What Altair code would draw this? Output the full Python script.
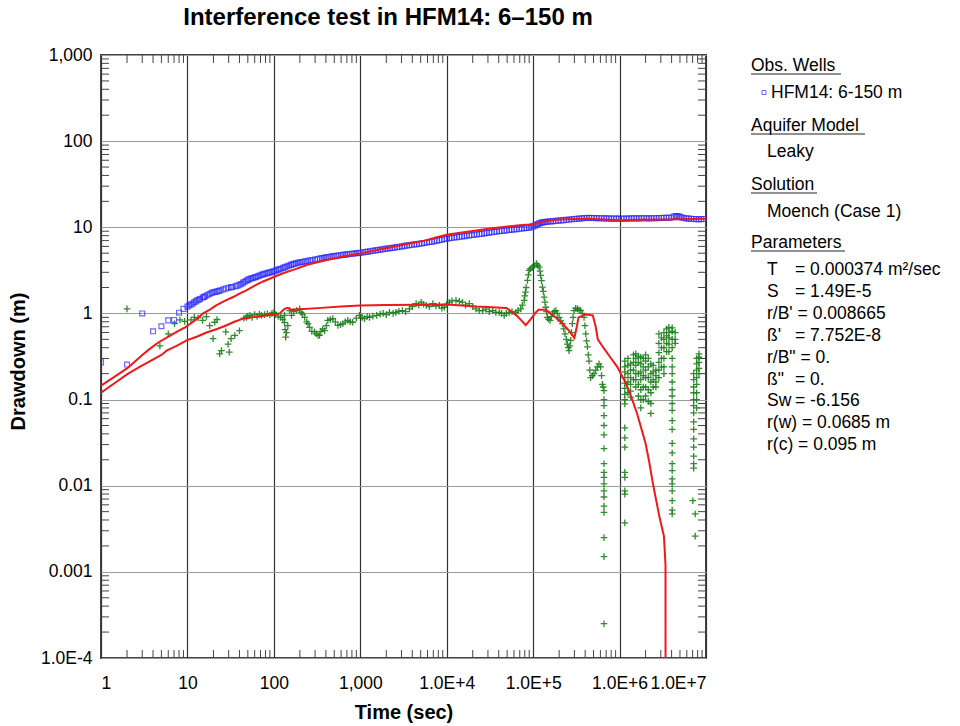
import altair as alt
import pandas as pd

# ---------------- text ----------------
title_text = "Interference test in HFM14: 6–150 m"
x_title = "Time (sec)"
y_title = "Drawdown (m)"
x_ticks = [1, 10, 100, 1000, 1e4, 1e5, 1e6, 1e7]
x_tick_labels = ["1", "10", "100", "1,000", "1.0E+4", "1.0E+5", "1.0E+6", "1.0E+7"]
y_ticks = [1e-4, 1e-3, 1e-2, 0.1, 1, 10, 100, 1000]
y_tick_labels = ["1.0E-4", "0.001", "0.01", "0.1", "1", "10", "100", "1,000"]

legend_heads = ["Obs. Wells", "Aquifer Model", "Solution", "Parameters"]
well_name = "HFM14: 6-150 m"
aquifer_model = "Leaky"
solution_name = "Moench (Case 1)"
param_names = ["T", "S", "r/B'", "ß'", 'r/B"', 'ß"', "Sw", "r(w)", "r(c)"]
param_values = ["0.000374 m²/sec", "1.49E-5", "0.008665", "7.752E-8", "0.", "0.",
                "-6.156", "0.0685 m", "0.095 m"]

# ---------------- observed drawdown (blue squares) ----------------
obs_time = [1, 2, 3, 4, 5, 6, 7, 8, 9, 10, 10.5, 11, 11.5, 12, 12.5, 13, 13.5, 14, 15,
            15.5, 16, 17, 18, 19, 20, 21, 22, 23, 24, 26, 28, 30, 32, 33, 36, 38, 40,
            42, 44, 46, 48, 50, 52, 55, 57, 60, 62, 65, 68, 72, 75, 78, 82, 86, 90, 95,
            100, 105, 110, 115, 120, 128, 135, 142, 150, 158, 165, 172, 180, 190, 200,
            212, 225, 237, 250, 265, 280, 300, 320, 340, 360, 380, 400, 425, 450, 475,
            500, 530, 560, 600, 630, 670, 710, 750, 800, 850, 900, 950, 1000, 1080,
            1150, 1220, 1300, 1400, 1500, 1600, 1700, 1820, 1950, 2070, 2200, 2350,
            2500, 2670, 2850, 3050, 3250, 3470, 3700, 3950, 4200, 4500, 4800, 5150,
            5500, 5900, 6300, 6750, 7200, 7700, 8200, 8800, 9400, 10000, 10700, 11400,
            12200, 13100, 14000, 15000, 16000, 17100, 18200, 19500, 20800, 22300, 23800,
            25500, 27200, 29000, 31000, 33200, 35500, 38000, 40500, 43300, 46300, 49400,
            52800, 56400, 60300, 64500, 69000, 73700, 78700, 84000, 90000, 95000, 100000,
            105000, 110000, 114000, 118000, 122000, 127000, 132000, 137000, 143000,
            150000, 160000, 170000, 182000, 195000, 210000, 225000, 242000, 260000,
            280000, 300000, 320000, 340000, 365000, 390000, 417000, 445000, 475000,
            505000, 540000, 580000, 620000, 660000, 705000, 755000, 805000, 860000,
            920000, 985000, 1050000, 1120000, 1200000, 1280000, 1370000, 1470000,
            1570000, 1680000, 1790000, 1910000, 2050000, 2190000, 2340000, 2500000,
            2670000, 2850000, 3050000, 3260000, 3480000, 3720000, 3980000, 4250000,
            4450000, 4600000, 4800000, 5000000, 5250000, 5540000, 5900000, 6330000,
            6750000, 7230000, 7700000, 8260000, 8800000, 9430000]
obs_drawdown = [0.27, 0.255, 1.0, 0.62, 0.71, 0.83, 0.84, 1.02, 1.13, 1.2, 1.24, 1.27,
                1.3, 1.35, 1.38, 1.42, 1.44, 1.47, 1.53, 1.55, 1.58, 1.63, 1.68, 1.73,
                1.76, 1.78, 1.8, 1.82, 1.85, 1.9, 1.95, 1.99, 2.01, 2.03, 2.07, 2.1,
                2.15, 2.2, 2.28, 2.33, 2.4, 2.45, 2.5, 2.55, 2.58, 2.62, 2.65, 2.7, 2.75,
                2.8, 2.85, 2.88, 2.92, 2.96, 3.0, 3.04, 3.08, 3.14, 3.2, 3.25, 3.3, 3.38,
                3.45, 3.52, 3.6, 3.66, 3.72, 3.77, 3.82, 3.87, 3.92, 3.96, 4.0, 4.04,
                4.08, 4.12, 4.17, 4.22, 4.28, 4.33, 4.38, 4.42, 4.47, 4.51, 4.55, 4.59,
                4.63, 4.66, 4.7, 4.74, 4.78, 4.81, 4.85, 4.89, 4.93, 4.96, 5.0, 5.03,
                5.07, 5.12, 5.17, 5.22, 5.28, 5.34, 5.4, 5.45, 5.5, 5.56, 5.62, 5.67,
                5.72, 5.77, 5.82, 5.88, 5.95, 6.01, 6.08, 6.14, 6.2, 6.26, 6.32, 6.38,
                6.45, 6.51, 6.58, 6.66, 6.75, 6.82, 6.9, 7.0, 7.1, 7.2, 7.3, 7.38, 7.45,
                7.52, 7.6, 7.68, 7.75, 7.83, 7.9, 7.98, 8.05, 8.13, 8.2, 8.28, 8.35,
                8.42, 8.5, 8.59, 8.68, 8.76, 8.85, 8.92, 9.0, 9.07, 9.15, 9.22, 9.3,
                9.38, 9.45, 9.52, 9.6, 9.68, 9.75, 9.82, 9.9, 10.0, 10.2, 10.45, 10.7,
                10.9, 11.1, 11.25, 11.35, 11.42, 11.5, 11.58, 11.65, 11.72, 11.8, 11.88,
                11.95, 12.02, 12.1, 12.2, 12.3, 12.4, 12.5, 12.55, 12.6, 12.7, 12.8,
                12.82, 12.85, 12.83, 12.8, 12.78, 12.75, 12.72, 12.7, 12.68, 12.65, 12.62,
                12.6, 12.6, 12.6, 12.58, 12.6, 12.62, 12.65, 12.68, 12.7, 12.7, 12.7,
                12.72, 12.75, 12.72, 12.7, 12.72, 12.75, 12.78, 12.8, 12.83, 12.85, 12.88,
                12.9, 13.0, 13.3, 13.4, 13.5, 13.4, 13.2, 13.0, 12.8, 12.7, 12.6, 12.55,
                12.5, 12.45, 12.4, 12.45, 12.5]

# ---------------- derivative data (green crosses) ----------------
deriv_early = [(2, 1.13), (4.8, 0.42), (6, 0.58), (7.1, 0.76), (8.2, 0.84), (9.3, 0.81),
               (11, 0.84), (12, 0.9), (13.3, 0.89), (15, 0.83), (16.6, 0.92), (18.1, 0.72),
               (20.7, 0.79), (19.8, 0.51), (22, 0.85), (24.8, 0.37), (23.6, 0.34),
               (27.8, 0.61), (29.5, 0.44), (32, 0.51), (30.5, 0.355), (35.3, 0.555),
               (40, 0.63), (45, 0.88), (48, 0.9)]
deriv_mid = [(50, 0.93), (53, 0.95), (56, 0.9), (60, 0.97), (64, 0.92), (68, 0.98),
             (72, 0.95), (78, 0.97), (84, 0.99), (90, 0.96), (95, 1.0), (100, 1.02),
             (105, 0.97), (112, 0.93), (120, 0.9), (127, 0.85), (133, 0.95), (133, 0.78),
             (135, 0.65), (137, 0.53), (140, 0.6), (145, 0.72), (152, 1.08), (160, 0.95),
             (170, 1.05), (183, 1.08), (199, 1.13), (207, 1.03), (215, 0.98), (227, 0.9),
             (240, 0.8), (248, 0.76), (259, 0.69), (275, 0.62), (296, 0.61), (310, 0.58),
             (324, 0.555), (338, 0.555), (350, 0.62), (368, 0.66), (386, 0.63),
             (405, 0.72), (421, 0.83), (450, 0.85), (481, 0.87), (515, 0.8), (550, 0.725),
             (590, 0.74), (627, 0.76), (670, 0.8), (716, 0.83), (765, 0.8), (817, 0.79),
             (900, 0.88), (979, 0.95), (1050, 0.9), (1118, 0.87), (1200, 0.92),
             (1277, 0.9), (1400, 0.93), (1550, 0.95), (1700, 0.98), (1840, 1.0),
             (2000, 0.97), (2174, 1.03), (2400, 1.0), (2580, 1.03), (2800, 1.06),
             (3070, 1.08), (3350, 1.05), (3700, 1.13), (4000, 1.2), (4430, 1.3),
             (4750, 1.25), (5060, 1.35), (5400, 1.28), (5800, 1.24), (6300, 1.2),
             (6920, 1.3), (7500, 1.22), (8216, 1.24), (8800, 1.15), (9384, 1.18),
             (10000, 1.28), (10720, 1.35), (11500, 1.4), (12800, 1.42), (14000, 1.38),
             (15200, 1.35), (16500, 1.25), (18240, 1.3), (20000, 1.2), (21800, 1.13),
             (23800, 1.08), (26000, 1.08), (28500, 1.12), (31050, 1.05), (34000, 1.08),
             (37000, 1.03), (40500, 1.03), (43000, 1.0), (46260, 0.95), (49000, 1.0),
             (52840, 1.03), (57000, 1.05), (63000, 1.03), (67000, 1.08), (71800, 1.13),
             (75000, 1.25)]
deriv_peak = [(78730, 1.42), (80000, 1.6), (81500, 1.77), (83000, 2.0), (86000, 2.42),
              (88000, 2.8), (89920, 3.16), (93000, 3.3), (98000, 3.45), (103000, 3.6),
              (109000, 3.78), (113000, 3.6), (117300, 3.45), (120000, 3.1), (122000, 2.77),
              (125000, 2.4), (128000, 2.02), (131000, 1.8), (134000, 1.55), (137000, 1.35),
              (140000, 1.18), (143000, 1.05), (146000, 0.9), (150000, 0.86), (157000, 0.83),
              (162000, 0.92), (168000, 1.0), (175000, 1.05), (183000, 1.08), (190000, 1.0),
              (199700, 0.9), (208000, 0.82), (218000, 0.76), (226000, 0.66), (234000, 0.58),
              (242000, 0.5), (249000, 0.44), (255000, 0.4), (260500, 0.37), (266000, 0.42),
              (272000, 0.486), (278000, 0.6), (284000, 0.76), (290000, 0.9),
              (297500, 1.08), (310000, 1.15), (325000, 1.13), (340000, 1.1), (355000, 1.08),
              (370000, 1.0), (388100, 0.9), (397000, 0.72), (406000, 0.58), (415000, 0.48),
              (425000, 0.41), (434000, 0.33), (443300, 0.28), (452000, 0.22), (463000, 0.18),
              (485000, 0.19), (506300, 0.2), (530000, 0.22), (553000, 0.24), (578000, 0.26),
              (604000, 0.24), (618000, 0.19), (632000, 0.15), (646000, 0.14),
              (660500, 0.127)]
# late-time columns: (time, [derivative values read down the column])
deriv_columns = [
    (660000, [0.1, 0.085, 0.065, 0.05, 0.039, 0.027, 0.018, 0.0143, 0.0125, 0.0105,
              0.0087, 0.0074, 0.0058, 0.0049, 0.0025, 0.0015, 0.00025]),
    (1150000, [0.28, 0.24, 0.21, 0.18, 0.155, 0.135, 0.115, 0.1, 0.089, 0.047, 0.036,
               0.028, 0.0143, 0.0125, 0.0087, 0.008, 0.0037]),
    (1250000, [0.3, 0.25, 0.2, 0.16, 0.12]),
    (1340000, [0.26, 0.22, 0.18, 0.15, 0.125, 0.107]),
    (1450000, [0.33, 0.27, 0.22, 0.17]),
    (1540000, [0.34, 0.3, 0.25, 0.2, 0.17, 0.14]),
    (1650000, [0.32, 0.27, 0.2, 0.15, 0.11]),
    (1760000, [0.31, 0.26, 0.21, 0.17, 0.13, 0.1, 0.08]),
    (1880000, [0.3, 0.24, 0.19, 0.14, 0.1]),
    (2000000, [0.33, 0.28, 0.22, 0.18, 0.14, 0.11]),
    (2150000, [0.3, 0.24, 0.18, 0.13, 0.095]),
    (2300000, [0.26, 0.2, 0.16, 0.12, 0.09, 0.069]),
    (2450000, [0.25, 0.21, 0.17, 0.14]),
    (2630000, [0.22, 0.19, 0.16, 0.14]),
    (2850000, [0.58, 0.45, 0.35, 0.27, 0.22, 0.18]),
    (3050000, [0.52, 0.4, 0.3, 0.24]),
    (3260000, [0.6, 0.5, 0.4, 0.3, 0.24, 0.2]),
    (3500000, [0.66, 0.55, 0.45, 0.36]),
    (3720000, [0.69, 0.6, 0.52, 0.44, 0.36]),
    (4060000, [0.68, 0.62, 0.5, 0.4, 0.3, 0.24, 0.2, 0.16, 0.13, 0.11, 0.09, 0.075,
               0.057, 0.045, 0.031, 0.024, 0.018, 0.015, 0.012, 0.0105, 0.0087, 0.0067,
               0.0052, 0.0047]),
    (4400000, [0.6, 0.5, 0.45]),
    (7040000, [0.0067]),
    (7500000, [0.0047, 0.0026]),
    (7200000, [0.2, 0.17, 0.14, 0.12, 0.1, 0.085, 0.07, 0.055, 0.045, 0.035, 0.028,
               0.022, 0.018, 0.016]),
    (7800000, [0.3, 0.26, 0.22, 0.18, 0.15, 0.12, 0.1, 0.08]),
    (8300000, [0.34, 0.31, 0.27, 0.23, 0.2]),
]

# ---------------- model curves (red) ----------------
model_time = [1, 1.5, 2, 2.4, 3, 3.7, 4.6, 5.9, 7.5, 9.4, 11, 13, 15.2, 18, 21.5, 27,
              33.8, 40, 48, 60, 75, 100, 130, 174, 250, 420, 650, 1000, 1600, 2500,
              3700, 5600, 7500, 10000, 15000, 22000, 32000, 45000, 65000, 90000, 105000,
              120000, 150000, 200000, 280000, 400000, 600000, 1000000, 1500000, 2200000,
              3000000, 5000000, 7000000, 10000000]
model_drawdown = [0.145, 0.19, 0.23, 0.27, 0.33, 0.39, 0.46, 0.53, 0.61, 0.69, 0.77,
                  0.87, 1.0, 1.1, 1.24, 1.4, 1.55, 1.7, 1.85, 2.1, 2.35, 2.65, 2.95,
                  3.25, 3.7, 4.2, 4.6, 4.95, 5.5, 6.0, 6.5, 7.0, 7.6, 8.2, 8.7, 9.2, 9.7,
                  10.1, 10.5, 10.8, 11.0, 11.4, 11.9, 12.3, 12.5, 12.6, 12.4, 12.1, 12.2,
                  12.3, 12.3, 12.4, 12.5, 12.6]
model_deriv_time = [1, 1.5, 2, 2.8, 3.7, 5, 5.75, 7.5, 9.8, 13, 16.6, 22, 28, 35, 44,
                    55, 68, 85, 100, 117, 133, 145, 160, 200, 355, 600, 990, 2000, 5600,
                    10000, 22000, 49000, 56000, 64000, 73000, 82000, 95000, 105000,
                    115000, 140000, 170000, 220000, 260000, 300000, 320000, 335000,
                    400000, 490000, 530000, 560000, 650000, 800000, 940000, 1200000,
                    1400000, 1600000, 1800000, 2000000, 2200000, 2400000, 2650000,
                    2900000, 3260000, 3400000, 3410000]
model_deriv = [0.12, 0.16, 0.196, 0.24, 0.28, 0.33, 0.37, 0.42, 0.486, 0.54, 0.6, 0.66,
               0.725, 0.8, 0.87, 0.9, 0.92, 0.95, 0.97, 1.0, 1.13, 1.16, 1.1, 1.12, 1.16,
               1.2, 1.24, 1.25, 1.26, 1.27, 1.2, 1.16, 1.05, 0.95, 0.83, 0.73, 0.87, 1.0,
               1.1, 1.1, 0.95, 0.76, 0.63, 0.52, 0.7, 0.9, 0.97, 0.95, 0.7, 0.5, 0.4, 0.3,
               0.24, 0.15, 0.1, 0.068, 0.045, 0.031, 0.019, 0.0114, 0.0068, 0.0043,
               0.0026, 0.0012, 1e-6]

# ---------------- build tables ----------------
W, H = 605, 603
FONT = "Liberation Sans"

obs_df = pd.DataFrame({"t": obs_time, "s": obs_drawdown})
g_pts = deriv_early + deriv_mid + deriv_peak
for tc, vals in deriv_columns:
    g_pts += [(tc, v) for v in vals]
deriv_df = pd.DataFrame({"t": [p[0] for p in g_pts], "s": [p[1] for p in g_pts]})
model_df = pd.DataFrame({"t": model_time, "s": model_drawdown})
mderiv_df = pd.DataFrame({"t": model_deriv_time, "s": model_deriv})

x_minor = [m * 10 ** k for k in range(0, 7) for m in range(2, 10)]
y_minor = [m * 10.0 ** k for k in range(-4, 3) for m in range(2, 10)]


def label_expr(vals, labels):
    expr = "'" + labels[-1] + "'"
    for v, lab in reversed(list(zip(vals[:-1], labels[:-1]))):
        expr = "datum.value < " + repr(v * 3.1623) + " ? '" + lab + "' : " + expr
    return expr


xscale = alt.Scale(type="log", domain=[1, 1e7], nice=False)
yscale = alt.Scale(type="log", domain=[1e-4, 1000], nice=False)
x_enc = alt.X("t:Q", scale=xscale,
              axis=alt.Axis(values=x_ticks, labelExpr=label_expr(x_ticks, x_tick_labels),
                            title=x_title, grid=True, gridColor="#333333", gridWidth=1.2,
                            labelPadding=16, titleY=54, titleBaseline="middle"))
y_enc = alt.Y("s:Q", scale=yscale,
              axis=alt.Axis(values=y_ticks, labelExpr=label_expr(y_ticks, y_tick_labels),
                            title=y_title, grid=True, gridColor="#9a9a9a", gridWidth=1.2,
                            labelPadding=9, titleX=-83, titleY=306,
                            titleBaseline="middle"))

layers = []
tick_col = "#444444"
layers.append(alt.Chart(pd.DataFrame({"t": x_minor})).mark_rule(color=tick_col, strokeWidth=1)
              .encode(x=x_enc, y=alt.value(H), y2=alt.value(H - 8)))
layers.append(alt.Chart(pd.DataFrame({"t": x_minor})).mark_rule(color=tick_col, strokeWidth=1)
              .encode(x=x_enc, y=alt.value(0), y2=alt.value(8)))
layers.append(alt.Chart(pd.DataFrame({"s": y_minor})).mark_rule(color=tick_col, strokeWidth=1)
              .encode(y=y_enc, x=alt.value(0), x2=alt.value(8)))
layers.append(alt.Chart(pd.DataFrame({"s": y_minor})).mark_rule(color=tick_col, strokeWidth=1)
              .encode(y=y_enc, x=alt.value(W), x2=alt.value(W - 8)))

cross = "M-1,0L1,0M0,-1L0,1"
layers.append(alt.Chart(deriv_df).mark_point(shape=cross, filled=False, color="#1a7f1a",
                                             strokeWidth=1.3, size=44, opacity=0.9,
                                             clip=True)
              .encode(x=x_enc, y=y_enc))
layers.append(alt.Chart(obs_df).mark_point(shape="square", filled=False, color="#2a2aff",
                                           strokeWidth=1.2, size=24, clip=True)
              .encode(x=x_enc, y=y_enc))
layers.append(alt.Chart(model_df).mark_line(color="#f01818", strokeWidth=2, clip=True)
              .encode(x=x_enc, y=y_enc))
layers.append(alt.Chart(mderiv_df).mark_line(color="#f01818", strokeWidth=2, clip=True)
              .encode(x=x_enc, y=y_enc))


def text_layer(txt, px, py, size=17.5, weight="normal", align="left"):
    return (alt.Chart(pd.DataFrame({"label": [txt]}))
            .mark_text(font=FONT, fontSize=size, fontWeight=weight, align=align,
                       baseline="middle", color="black")
            .encode(x=alt.value(px), y=alt.value(py), text="label:N"))


def underline(px, py, w):
    return (alt.Chart(pd.DataFrame({"k": [0]})).mark_rule(color="#222222", strokeWidth=1)
            .encode(x=alt.value(px), x2=alt.value(px + w), y=alt.value(py)))


# chart title
layers.append(text_layer(title_text, 287, -37, size=24, weight="bold", align="center"))

# side panel
LX = 650
head_y = [11, 71, 130, 188]
head_w = [90, 114, 66, 94]
for txt, hy, hw in zip(legend_heads, head_y, head_w):
    layers.append(text_layer(txt, LX, hy))
    layers.append(underline(LX, hy + 8, hw))
layers.append(alt.Chart(pd.DataFrame({"k": [0]}))
              .mark_point(shape="square", filled=False, color="#2a2aff", size=16,
                          strokeWidth=1)
              .encode(x=alt.value(663), y=alt.value(37.5)))
layers.append(text_layer(well_name, 670, 37.5))
layers.append(text_layer(aquifer_model, 666, 97))
layers.append(text_layer(solution_name, 666, 156.5))
for i, (nm, val) in enumerate(zip(param_names, param_values)):
    py = 215 + 21.9 * i
    if len(nm) <= 2:
        layers.append(text_layer(nm, 666, py))
        layers.append(text_layer("= " + val, 694, py))
    else:
        layers.append(text_layer(nm + " = " + val, 666, py))

chart = (alt.layer(*layers)
         .properties(width=W, height=H, autosize=alt.AutoSizeParams(type="none"),
                     padding={"left": 101, "top": 55, "right": 254, "bottom": 68})
         .configure_view(stroke="#444444", strokeWidth=2)
         .configure_axis(labelFont=FONT, labelFontSize=17.5, labelColor="black",
                         titleFont=FONT, titleFontSize=20, titleFontWeight="bold",
                         titleColor="black", domain=False, ticks=False))

chart.save("out.html", embed_options={"renderer": "svg", "actions": False})
